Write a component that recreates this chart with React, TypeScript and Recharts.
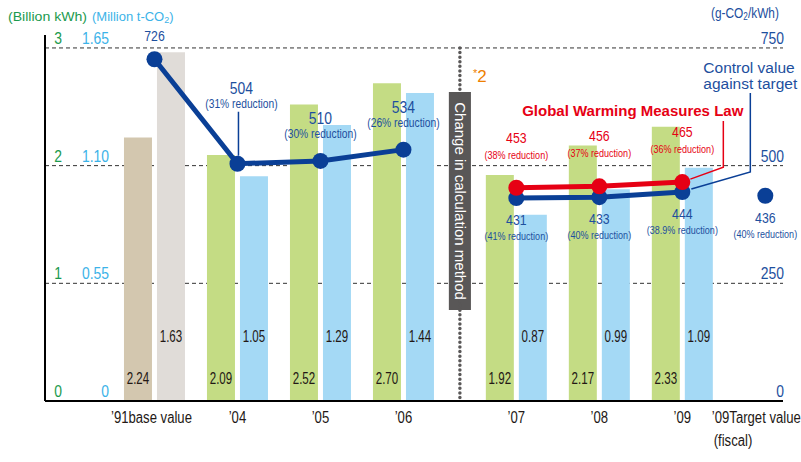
import {
  ComposedChart,
  Bar,
  Line,
  XAxis,
  YAxis,
  CartesianGrid,
  ReferenceLine,
  ReferenceArea,
  Cell,
} from "recharts"

const categories = ["’91", "’04", "’05", "’06", "’07", "’08", "’09", "’09"]
const categorySuffix = ["base value", "", "", "", "", "", "", "Target value"]
const kwh = [2.24, 2.09, 2.52, 2.7, 1.92, 2.17, 2.33, null]
const co2 = [1.63, 1.05, 1.29, 1.44, 0.87, 0.99, 1.09, null]
const intensity = [726, 504, 510, 534, 431, 433, 444, 436]
const intensityNotes = [
  "",
  "(31% reduction)",
  "(30% reduction)",
  "(26% reduction)",
  "(41% reduction)",
  "(40% reduction)",
  "(38.9% reduction)",
  "(40% reduction)",
]
const lawIntensity = [null, null, null, null, 453, 456, 465, null]
const lawNotes = ["", "", "", "", "(38% reduction)", "(37% reduction)", "(36% reduction)", ""]
const kwhTicks = [0, 1, 2, 3]
const co2Ticks = ["0", "0.55", "1.10", "1.65"]
const intensityTicks = [0, 250, 500, 750]

const NEW_METHOD_FROM = 4
const TARGET_INDEX = 7
const METHOD_GAP = 0.36

const positions = categories.map((_, i) => i + (i >= NEW_METHOD_FROM ? METHOD_GAP : 0))
const dividerPos = (positions[NEW_METHOD_FROM - 1] + positions[NEW_METHOD_FROM]) / 2

const data = categories.map((c, i) => ({
  pos: positions[i],
  kwh: kwh[i],
  co2: co2[i],
  oldMethod: i < NEW_METHOD_FROM ? intensity[i] : null,
  newMethod: i >= NEW_METHOD_FROM && i < TARGET_INDEX ? intensity[i] : null,
  target: i === TARGET_INDEX ? intensity[i] : null,
  law: lawIntensity[i],
}))

const SANS = "'Liberation Sans', Arial, sans-serif"
const BLUE_LINE = "#0a3f96"
const BLUE_TEXT = "#1d4f9e"
const RED = "#e60014"
const GREEN_TEXT = "#1b9a4e"
const CYAN_TEXT = "#3cb3e8"
const GREEN_BAR = "#c4dc84"
const BLUE_BAR = "#a4d9f5"
const TAN_BAR = "#d3c7af"
const GREY_BAR = "#e0dcd8"
const DARK = "#231815"

// condensed text: Liberation Sans squeezed horizontally
const NText = ({ x, y, size, fill, anchor = "middle", sx = 0.82, weight, children }: any) => (
  <text
    transform={`translate(${x},${y}) scale(${sx},1)`}
    textAnchor={anchor}
    fontSize={size}
    fill={fill}
    fontFamily={SANS}
    fontWeight={weight}
  >
    {children}
  </text>
)

const LeftTick = (props: any) => {
  const { x, y, payload } = props
  const i = kwhTicks.indexOf(payload.value)
  return (
    <g>
      <NText x={x + 13} y={y - 4} size={17} fill={GREEN_TEXT}>
        {payload.value}
      </NText>
      <NText x={x + 64} y={y - 4} size={17} fill={CYAN_TEXT} anchor="end">
        {co2Ticks[i]}
      </NText>
    </g>
  )
}

const RightTick = (props: any) => {
  const { x, y, payload } = props
  return (
    <NText x={x + 1} y={y - 4} size={17} fill={BLUE_TEXT} anchor="end">
      {payload.value}
    </NText>
  )
}

const BottomTick = (props: any) => {
  const { x, y, payload } = props
  const i = positions.findIndex((p) => Math.abs(p - payload.value) < 0.001)
  if (i < 0) return null
  const dx = i === 0 ? -3 : i === TARGET_INDEX ? -9 : 0
  return (
    <NText x={x + dx} y={y + 22} size={16} fill={DARK}>
      {categories[i] + categorySuffix[i]}
    </NText>
  )
}

const barValue = (lift: number) => (p: any) => {
  if (p.value == null) return null
  return (
    <NText x={p.x + p.width / 2} y={p.y + p.height - lift} size={17} sx={0.68} fill={DARK}>
      {Number(p.value).toFixed(2)}
    </NText>
  )
}

const oldLabel = (p: any) => {
  const { x, y, index, value } = p
  if (value == null || y == null) return null
  if (index === 0)
    return (
      <NText x={x} y={y - 18} size={15} fill={BLUE_TEXT}>
        {value}
      </NText>
    )
  const lifted = index === 1
  const dx = lifted ? 4 : 0
  return (
    <g>
      {lifted && <line x1={x + 1} x2={x + 1} y1={y - 52} y2={y - 8} stroke={BLUE_LINE} strokeWidth={1.5} />}
      <NText x={x + dx} y={y - (lifted ? 70 : 37)} size={17} fill={BLUE_TEXT}>
        {value}
      </NText>
      <NText x={x + dx} y={y - (lifted ? 56 : 23)} size={12.5} fill={BLUE_TEXT}>
        {intensityNotes[index]}
      </NText>
    </g>
  )
}

const newLabel = (p: any) => {
  const { x, y, index, value } = p
  if (value == null || y == null) return null
  return (
    <g>
      <NText x={x} y={y + 27} size={15} fill={BLUE_TEXT}>
        {value}
      </NText>
      <NText x={x} y={y + 42} size={11} fill={BLUE_TEXT}>
        {intensityNotes[index]}
      </NText>
      {index === TARGET_INDEX - 1 && (
        <g>
          <polyline
            points={`${x + 9},${y - 3} ${x + 68},${y - 20} ${x + 68},${y - 99}`}
            fill="none"
            stroke={BLUE_LINE}
            strokeWidth={1.5}
          />
          <text x={x + 21} y={y - 119} fill={BLUE_TEXT} fontFamily={SANS} fontSize={15.5}>
            Control value
          </text>
          <text x={x + 21} y={y - 103} fill={BLUE_TEXT} fontFamily={SANS} fontSize={15.5}>
            against target
          </text>
        </g>
      )}
    </g>
  )
}

const lawLabel = (p: any) => {
  const { x, y, index, value } = p
  if (value == null || y == null) return null
  return (
    <g>
      <NText x={x} y={y - 45} size={15} fill={RED}>
        {value}
      </NText>
      <NText x={x} y={y - 29} size={11} fill={RED}>
        {lawNotes[index]}
      </NText>
      {index === TARGET_INDEX - 1 && (
        <g>
          <polyline
            points={`${x + 8},${y - 3} ${x + 41},${y - 15} ${x + 41},${y - 61}`}
            fill="none"
            stroke={RED}
            strokeWidth={1.5}
          />
          <text x={x + 61} y={y - 66} textAnchor="end" fill={RED} fontFamily={SANS} fontWeight="bold" fontSize={15}>
            Global Warming Measures Law
          </text>
        </g>
      )}
    </g>
  )
}

export default function App() {
  return (
    <div style={{ position: "absolute", left: 0, top: 0, width: 801, height: 462, background: "#fff" }}>
      <ComposedChart
        width={801}
        height={462}
        data={data}
        margin={{ top: 35, right: 17, bottom: 60, left: 44 }}
        barGap={5}
      >
        <CartesianGrid
          yAxisId="kwh"
          vertical={false}
          horizontalValues={kwhTicks}
          stroke="#333"
          strokeDasharray="4 3"
        />
        <XAxis
          dataKey="pos"
          type="number"
          domain={[-1.319, 7.573]}
          allowDataOverflow
          ticks={positions}
          interval={0}
          height={1}
          tickSize={0}
          tickMargin={0}
          tick={<BottomTick />}
          axisLine={{ stroke: "#000", strokeWidth: 2 }}
        />
        <YAxis yAxisId="co2" domain={[0, 1.7105]} allowDataOverflow hide width={0} />
        <YAxis
          yAxisId="kwh"
          domain={[0, 3.11]}
          ticks={kwhTicks}
          allowDataOverflow
          width={1}
          tickSize={0}
          tickMargin={0}
          tick={<LeftTick />}
          axisLine={{ stroke: "#000", strokeWidth: 2 }}
        />
        <YAxis
          yAxisId="int"
          orientation="right"
          domain={[0, 777.5]}
          ticks={intensityTicks}
          allowDataOverflow
          width={1}
          tickSize={0}
          tickMargin={0}
          axisLine={false}
          tick={<RightTick />}
        />
        <ReferenceLine
          yAxisId="kwh"
          segment={[
            { x: dividerPos, y: 3 },
            { x: dividerPos, y: 0 },
          ]}
          stroke="#595757"
          strokeWidth={3.5}
          strokeDasharray="0 4.6"
          strokeLinecap="round"
        />
        <ReferenceArea
          yAxisId="kwh"
          x1={dividerPos - 0.133}
          x2={dividerPos + 0.133}
          y1={0.773}
          y2={2.625}
          fill="#595757"
          fillOpacity={1}
          stroke="none"
          label={{
            value: "Change in calculation method",
            position: "center",
            angle: 90,
            fill: "#fff",
            fontSize: 15,
            fontFamily: SANS,
          }}
        />
        <Bar yAxisId="kwh" dataKey="kwh" barSize={28} isAnimationActive={false} label={barValue(17)}>
          {data.map((_, i) => (
            <Cell key={i} fill={i === 0 ? TAN_BAR : GREEN_BAR} />
          ))}
        </Bar>
        <Bar yAxisId="co2" dataKey="co2" barSize={28} isAnimationActive={false} label={barValue(59)}>
          {data.map((_, i) => (
            <Cell key={i} fill={i === 0 ? GREY_BAR : BLUE_BAR} />
          ))}
        </Bar>
        <Line
          yAxisId="int"
          dataKey="oldMethod"
          stroke={BLUE_LINE}
          strokeWidth={5}
          dot={{ r: 8, fill: BLUE_LINE, stroke: BLUE_LINE, strokeWidth: 0 }}
          activeDot={false}
          isAnimationActive={false}
          label={oldLabel}
        />
        <Line
          yAxisId="int"
          dataKey="newMethod"
          stroke={BLUE_LINE}
          strokeWidth={5}
          dot={{ r: 8, fill: BLUE_LINE, stroke: BLUE_LINE, strokeWidth: 0 }}
          activeDot={false}
          isAnimationActive={false}
          label={newLabel}
        />
        <Line
          yAxisId="int"
          dataKey="target"
          stroke={BLUE_LINE}
          strokeWidth={5}
          dot={{ r: 8, fill: BLUE_LINE, stroke: BLUE_LINE, strokeWidth: 0 }}
          activeDot={false}
          isAnimationActive={false}
          label={newLabel}
        />
        <Line
          yAxisId="int"
          dataKey="law"
          stroke={RED}
          strokeWidth={5}
          dot={{ r: 8, fill: RED, stroke: RED, strokeWidth: 0 }}
          activeDot={false}
          isAnimationActive={false}
          label={lawLabel}
        />
      </ComposedChart>
      <svg
        width={801}
        height={462}
        style={{ position: "absolute", left: 0, top: 0, pointerEvents: "none" }}
      >
        <text x={8} y={21} fill={GREEN_TEXT} fontFamily={SANS} fontSize={13} textLength={79} lengthAdjust="spacingAndGlyphs">
          (Billion kWh)
        </text>
        <text x={92} y={21} fill={CYAN_TEXT} fontFamily={SANS} fontSize={13}>
          (Million t-CO<tspan fontSize={9} dy={2}>2</tspan>
          <tspan dy={-2}>)</tspan>
        </text>
        <text transform="translate(711,18) scale(0.82,1)" fill={BLUE_TEXT} fontFamily={SANS} fontSize={14.5}>
          (g-CO<tspan fontSize={10} dy={2}>2</tspan>
          <tspan dy={-2}>/kWh)</tspan>
        </text>
        <text x={473} y={82} fill="#ee7f00" fontFamily={SANS} fontSize={17}>
          <tspan fontSize={11} dy={-5}>*</tspan>
          <tspan dy={5}>2</tspan>
        </text>
        <NText x={733} y={446} size={16} fill={DARK}>
          (fiscal)
        </NText>
      </svg>
    </div>
  )
}
